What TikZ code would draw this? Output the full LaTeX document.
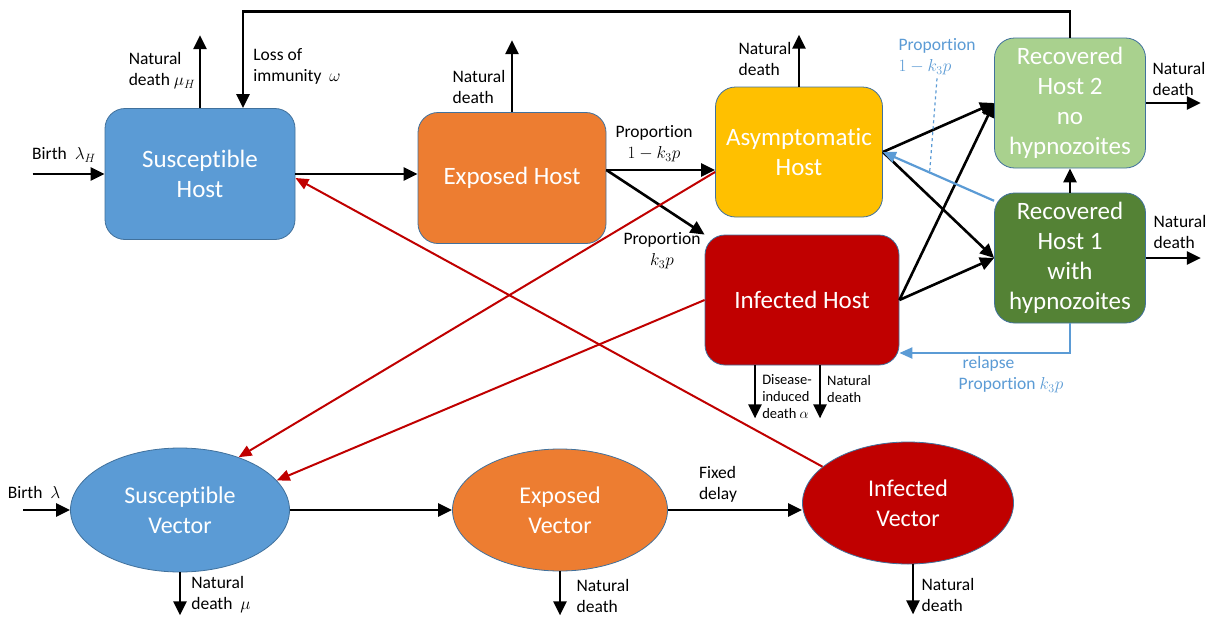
\documentclass[tikz,border=0pt]{standalone}
\usepackage{fontspec}
\setmainfont{Carlito}[Ligatures=NoCommon]
\usetikzlibrary{arrows.meta,shapes.geometric,calc}

\definecolor{hostblue}{HTML}{5B9BD5}
\definecolor{hostorange}{HTML}{ED7D31}
\definecolor{hostgold}{HTML}{FFC000}
\definecolor{hostred}{HTML}{C00000}
\definecolor{lightgreen}{HTML}{A9D18E}
\definecolor{darkgreen}{HTML}{548235}
\definecolor{edgeblue}{HTML}{41719C}

\begin{document}
\begin{tikzpicture}[x=1pt,y=-1pt]
    \tikzstyle{hostbox} = [rectangle,rounded corners=20pt,draw=edgeblue,line width=0.8pt,inner sep=0pt,text=white,align=center,font=\fontsize{25}{30}\selectfont]
    \tikzstyle{vecell} = [ellipse,draw=edgeblue,line width=0.8pt,inner sep=0pt,text=white,align=center,font=\fontsize{24}{30}\selectfont]
    \tikzstyle{flow} = [-{Triangle[length=14pt,width=13pt]},line width=2.6pt]
    \tikzstyle{bite} = [-{Triangle[length=13pt,width=11pt]},line width=2pt,draw=hostred]
    \tikzstyle{relapse} = [-{Triangle[length=13pt,width=11pt]},line width=2.2pt,draw=hostblue]
    \tikzstyle{lbl} = [align=left,inner sep=0pt,font=\fontsize{17.5}{21}\selectfont]
    \tikzstyle{smalllbl} = [align=left,inner sep=0pt,font=\fontsize{14.5}{17}\selectfont]
    \path[use as bounding box,fill=white] (0,0) rectangle (1207,616);
    % host compartments
    \node (sh)[hostbox,fill=hostblue,minimum width=190pt,minimum height=131pt] at (200,174) {Susceptible\\Host};
    \node (eh)[hostbox,fill=hostorange,minimum width=188pt,minimum height=131pt] at (512,178) {Exposed Host};
    \node (ah)[hostbox,fill=hostgold,minimum width=167pt,minimum height=130pt] at (799,152) {Asymptomatic\\Host};
    \node (ih)[hostbox,fill=hostred,minimum width=194pt,minimum height=130pt] at (802,300) {Infected Host};
    \node (rh2)[hostbox,fill=lightgreen,minimum width=151pt,minimum height=130pt] at (1070,103) {Recovered\\Host 2\\no\\hypnozoites};
    \node (rh1)[hostbox,fill=darkgreen,minimum width=151pt,minimum height=130pt] at (1070,258) {Recovered\\Host 1\\with\\hypnozoites};
    % vector compartments
    \node (sv)[vecell,fill=hostblue,minimum width=219pt,minimum height=124pt] at (180,510) {Susceptible\\Vector};
    \node (ev)[vecell,fill=hostorange,minimum width=215pt,minimum height=122pt] at (560,510) {Exposed\\Vector};
    \node (iv)[vecell,fill=hostred,minimum width=211pt,minimum height=122pt] at (908,503) {Infected\\Vector};
    % labels
    \node (birthh)[lbl] at (64,155) {Birth~ $\lambda_H$};
    \node (shdeath)[lbl] at (162,71) {Natural\\death $\mu_H$};
    \node (immunity)[lbl] at (297,66) {Loss of\\immunity~ $\omega$};
    \node (ehdeath)[lbl] at (479,87) {Natural\\death};
    \node (propasym)[lbl,align=center] at (654,144) {Proportion\\$1-k_3p$};
    \node (propinf)[lbl,align=center] at (662,251) {Proportion\\$k_3p$};
    \node (ahdeath)[lbl] at (765,59) {Natural\\death};
    \node (propblue)[lbl,text=hostblue] at (937,57) {Proportion\\$1-k_3p$};
    \node (rhtwodeath)[lbl] at (1179,79) {Natural\\death};
    \node (rhonedeath)[lbl] at (1180,232) {Natural\\death};
    \node (relapselbl)[lbl,text=hostblue] at (1011,375) {\hspace{4pt}relapse\\Proportion $k_3p$};
    \node (disease)[smalllbl] at (787,397) {Disease-\\induced\\death $\alpha$};
    \node (ihdeath)[smalllbl] at (849,389) {Natural\\death};
    \node (birthv)[lbl] at (34,492) {Birth~ $\lambda$};
    \node (svdeath)[lbl] at (221,595) {Natural\\death~ $\mu$};
    \node (evdeath)[lbl] at (603,596) {Natural\\death};
    \node (delay)[lbl] at (718,484) {Fixed\\delay};
    \node (ivdeath)[lbl] at (948,595) {Natural\\death};
    % host flows
    \draw [flow] ([xshift=-72pt]sh.west) -- (sh.west);
    \draw [flow] (sh.north) -- ++(0,-73);
    \draw [flow] (rh2.north) -- ++(0,-26) -| ([xshift=43pt]sh.north);
    \draw [flow] (sh.east) -- (sh.east -| eh.west);
    \draw [flow] (eh.north) -- ++(0,-72);
    \coordinate (esplit) at ([yshift=8pt]eh.east);
    \draw [flow] (esplit) -- (esplit -| ah.west);
    \draw [flow] (esplit) -- (ih.north west);
    \draw [flow] (ah.north) -- ++(0,-52);
    \draw [flow] (ah.east) -- (rh2.west);
    \draw [flow] (ah.east) -- (rh1.west);
    \draw [flow] (ih.east) -- (rh2.west);
    \draw [flow] (ih.east) -- (rh1.west);
    \draw [flow] (rh1.north) -- (rh2.south);
    \draw [flow] (rh2.east) -- ++(55,0);
    \draw [flow] (rh1.east) -- ++(55,0);
    \draw [flow] ([xshift=-47pt]ih.south) -- ++(0,53);
    \draw [flow] ([xshift=18pt]ih.south) -- ++(0,53);
    % relapse
    \draw [relapse] (rh1.143) -- (ah.east);
    \coordinate (dashend) at ($(ah.east)!0.42!(rh1.143)$);
    \draw [hostblue,dashed,line width=1.2pt] ([yshift=-3pt]propblue.south) -- (dashend);
    \draw [relapse] (rh1.south) |- ([yshift=-53pt]ih.east);
    % vector flows
    \draw [flow] ([xshift=-47pt]sv.west) -- (sv.west);
    \draw [flow] (sv.east) -- (ev.west);
    \draw [flow] (ev.east) -- (ev.east -| iv.west);
    \draw [flow] (sv.south) -- ++(0,43);
    \draw [flow] (ev.south) -- ++(0,44);
    \draw [flow] ([xshift=5pt]iv.south) -- ++(0,50);
    % transmission
    \draw [bite] (iv.157) -- ([yshift=-4pt]sh.east);
    \draw [bite] ([yshift=-20pt]ah.west) -- (sv.42);
    \draw [bite] (ih.west) -- (sv.17);
\end{tikzpicture}
\end{document}
